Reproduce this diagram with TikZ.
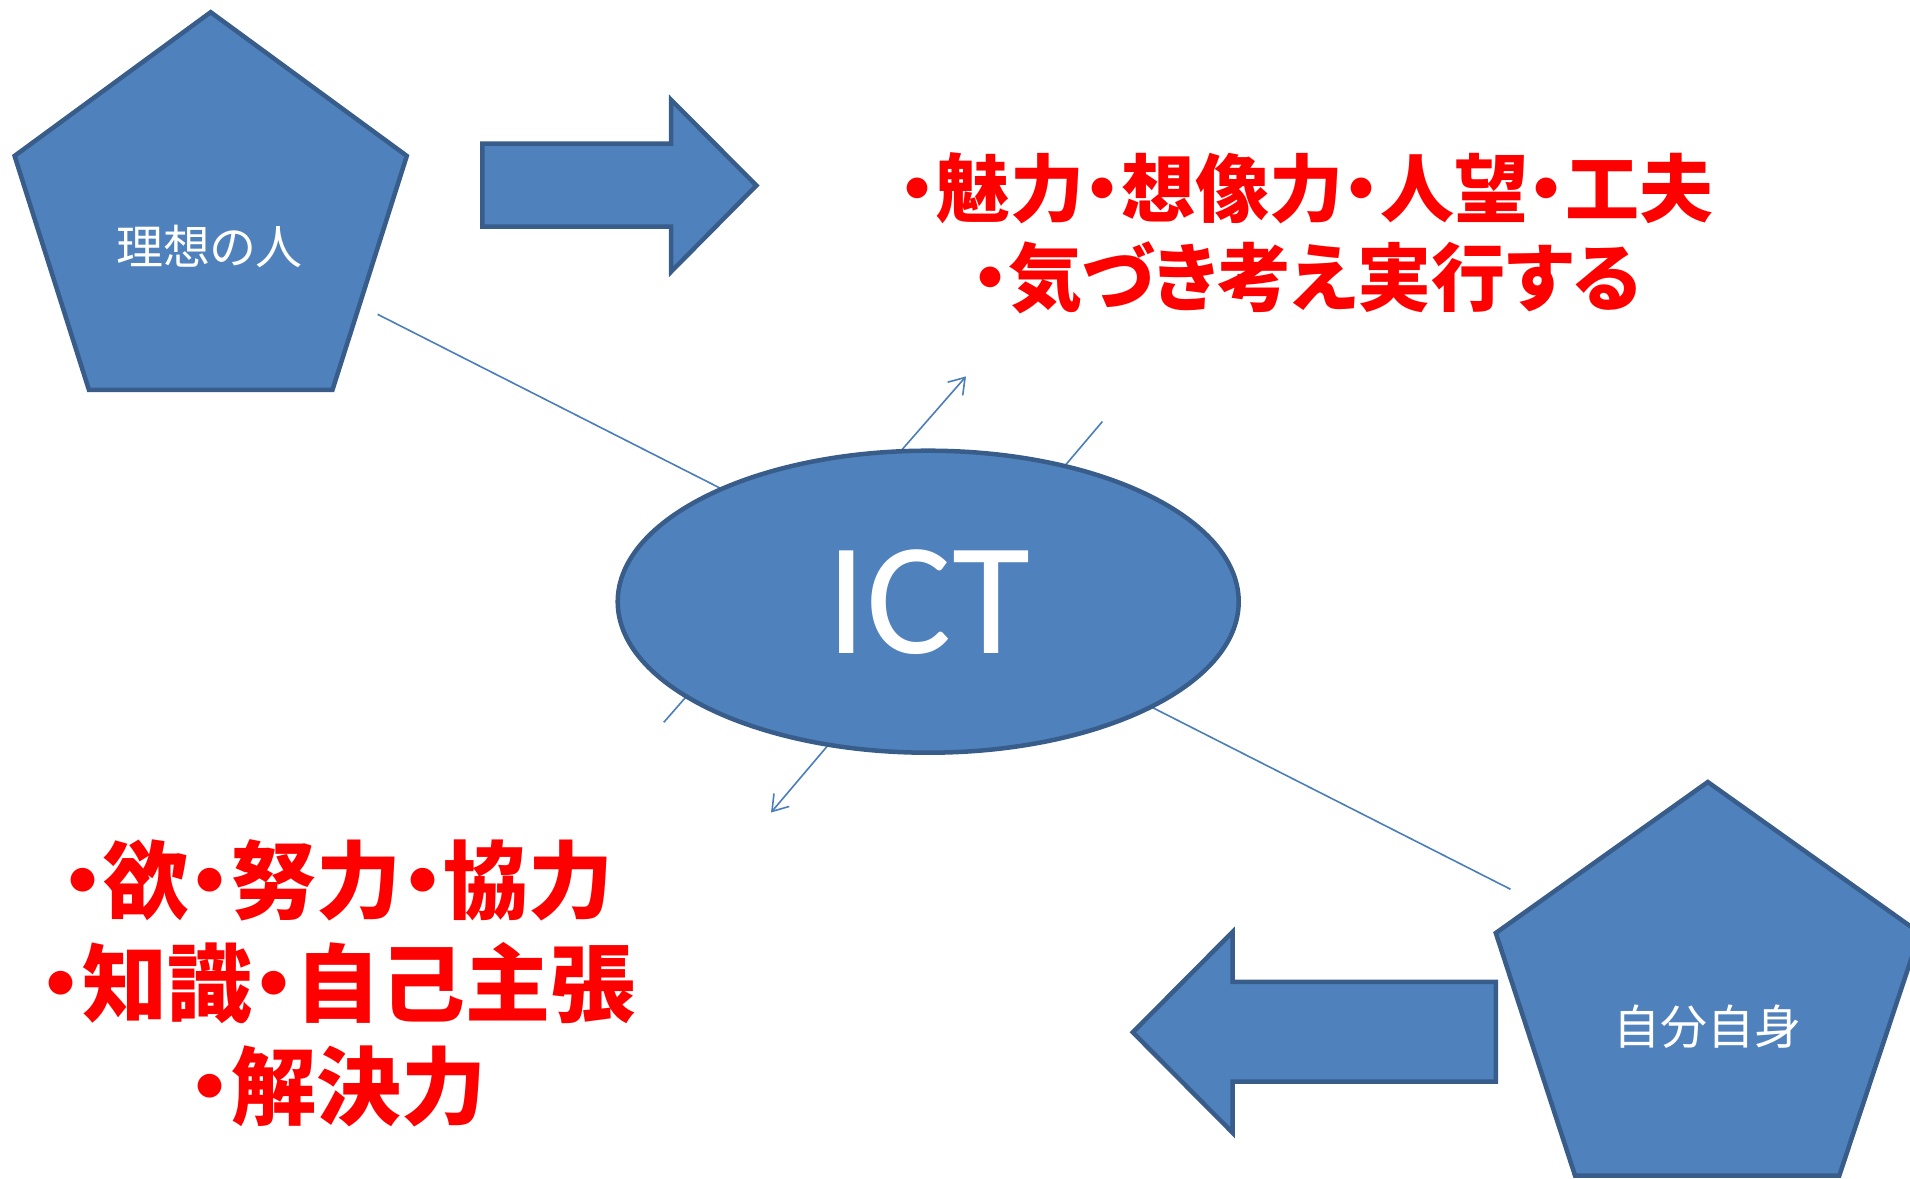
\documentclass[tikz,border=0pt]{standalone}
\usepackage{fontspec}
\setmainfont{Carlito}
\newfontfamily\jpp{Noto Sans CJK JP}[RawFeature=+palt]
\usetikzlibrary{shapes.geometric,arrows.meta}
\definecolor{fillblue}{HTML}{4F81BD}
\definecolor{edgeblue}{HTML}{385D8A}
\definecolor{lineblue}{HTML}{4A7EBB}
\definecolor{txtred}{HTML}{FF0000}
\begin{document}
\begin{tikzpicture}[x=1pt,y=-1pt,
  shapefill/.style={fill=fillblue,draw=edgeblue,line width=4.5pt,line join=miter},
  thinline/.style={draw=lineblue,line width=1.6pt},
  barbtip/.style={-{Straight Barb[length=15pt,width=20pt]}},
  whitetxt/.style={text=white,font=\jpp\fontsize{47}{47}\selectfont,inner sep=0pt},
  redtop/.style={text=txtred,font=\jpp\bfseries\fontsize{74}{89}\selectfont,align=center,inner sep=0pt},
  redbot/.style={text=txtred,font=\jpp\bfseries\fontsize{85}{103}\selectfont,align=center,inner sep=0pt}]
\useasboundingbox (0,0) rectangle (1910,1178);
\clip (0,0) rectangle (1910,1178);
% connector lines behind the ellipse
\coordinate (l1s) at (377.6,314.3);
\coordinate (l1e) at (1510.4,889.2);
\coordinate (a1t) at (966,376.4);
\coordinate (a1b) at (663.8,722.3);
\coordinate (a2t) at (1102.4,421.5);
\coordinate (a2b) at (771,812.5);
\draw[thinline] (l1s) -- (l1e);
\draw[thinline,barbtip] (a1b) -- (a1t);
\draw[thinline,barbtip] (a2t) -- (a2b);
% ellipse
\node[ellipse,shapefill,minimum width=621pt,minimum height=302pt,inner sep=0pt,
      text=white,font=\fontsize{160}{160}\selectfont] (ict) at (928.2,601.7) {ICT};
% pentagon 1
\draw[shapefill] (210.7,12.2) -- (406.8,155.9) -- (332.5,389.8) -- (88.9,389.8) -- (14.6,155.9) -- cycle;
\node[whitetxt] (p1) at (209.5,246) {理想の人};
% pentagon 2
\draw[shapefill] (1707.8,782) -- (1919.8,933) -- (1839.3,1175.5) -- (1575,1175.5) -- (1495.8,933) -- cycle;
\node[whitetxt] (p2) at (1707.8,1026.8) {自分自身};
% block arrows
\draw[shapefill] (482.4,143.7) -- (671.2,143.7) -- (671.2,99.9) -- (756.4,185.5) -- (671.2,271.6) -- (671.2,226.6) -- (482.4,226.6) -- cycle;
\draw[shapefill] (1495.8,981.8) -- (1232.7,981.8) -- (1232.7,931.8) -- (1132.8,1032.3) -- (1232.7,1132.8) -- (1232.7,1081.7) -- (1495.8,1081.7) -- cycle;
% red texts
\node[redtop] (t1) at (1306,233) {・魅力・想像力・人望・工夫\\・気づき考え実行する};
\node[redbot] (t2) at (337.5,983.6) {・欲・努力・協力\\・知識・自己主張\\・解決力};
\end{tikzpicture}
\end{document}
